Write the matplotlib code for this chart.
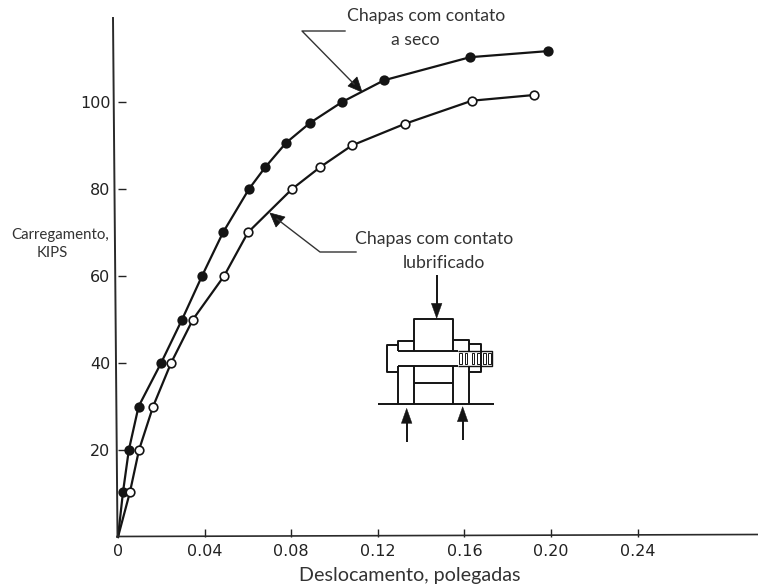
import matplotlib
matplotlib.use("Agg")
import matplotlib.pyplot as plt
from matplotlib.patches import Polygon, Rectangle

# ---- data ----
dry_x = [0, 0.0023, 0.0050, 0.0095, 0.0199, 0.0296, 0.0388, 0.0485, 0.0605, 0.0680, 0.0776, 0.0887, 0.1035, 0.1229, 0.1626, 0.1986]
dry_y = [0, 10.3, 20, 30, 40, 50, 60, 70, 80, 85, 90.6, 95.2, 100, 105, 110.3, 111.7]
lub_x = [0, 0.0055, 0.0097, 0.0162, 0.0245, 0.0346, 0.0490, 0.0600, 0.0804, 0.0933, 0.1080, 0.1326, 0.1635, 0.1920]
lub_y = [0, 10.3, 20, 30, 40, 50, 60, 70, 80, 85, 90, 95, 100.3, 101.6]
x_ticks = [0, 0.04, 0.08, 0.12, 0.16, 0.20, 0.24]
x_tick_labels = ["0", "0.04", "0.08", "0.12", "0.16", "0.20", "0.24"]
y_ticks = [20, 40, 60, 80, 100]
y_tick_labels = ["20", "40", "60", "80", "100"]

W, H = 758, 584
INK = "#141414"
fig = plt.figure(figsize=(W / 100, H / 100), dpi=100)
ax = fig.add_axes([118 / W, (H - 537) / H, (W - 118) / W, (537 - 18) / H])
ax.set_xlim(0, 640 / 2165)
ax.set_ylim(0, 519 / 4.35)
for s in ax.spines.values():
    s.set_visible(False)

for xs, ys, face in ((dry_x, dry_y, INK), (lub_x, lub_y, "white")):
    ax.plot(xs, ys, color=INK, lw=1.6, clip_on=False, zorder=3)
    ax.plot(xs[1:], ys[1:], ls="none", marker="o", ms=6.2, mfc=face, mec=INK, mew=1.2,
            clip_on=False, zorder=4)

ax.set_xticks(x_ticks, x_tick_labels)
ax.set_yticks(y_ticks, y_tick_labels)
ax.tick_params(axis="x", direction="in", length=5.5, width=1, color="#222222", pad=5,
               labelsize=11.5, labelcolor="#222222")
ax.tick_params(axis="y", direction="in", length=5.5, width=1, color="#222222", pad=5.5,
               labelsize=11.5, labelcolor="#222222")

# overlay in picture pixels: hand-drawn axes lines, callouts, schematic
ov = fig.add_axes([0, 0, 1, 1])
ov.set_xlim(0, W)
ov.set_ylim(H, 0)
ov.axis("off")
ov.patch.set_alpha(0)

ov.plot([113, 117.5], [18, 537], color="#2a2a2a", lw=1.4)
ov.plot([117, W], [536.5, 534.5], color="#2a2a2a", lw=1.2)

LATO = "Lato"
TXT = "#333333"
ov.text(426, 16, "Chapas com contato", family=LATO, fontsize=12.7, color=TXT, ha="center", va="center")
ov.text(415, 40, "a seco", family=LATO, fontsize=12.7, color=TXT, ha="center", va="center")
ov.text(434, 239, "Chapas com contato", family=LATO, fontsize=12.7, color=TXT, ha="center", va="center")
ov.text(444, 263, "lubrificado", family=LATO, fontsize=12.7, color=TXT, ha="center", va="center")
ov.text(60, 235, "Carregamento,", family=LATO, fontsize=10.8, color=TXT, ha="center", va="center")
ov.text(52, 253, "KIPS", family=LATO, fontsize=10.8, color=TXT, ha="center", va="center")
ov.text(410, 575, "Deslocamento, polegadas", family=LATO, fontsize=14.2, color=TXT, ha="center", va="center")

# callouts
ov.plot([345, 302, 354], [31, 31, 84], color="#333333", lw=1.0)
ov.add_patch(Polygon([(362, 92), (348, 86), (357, 77)], closed=True, fc=INK, ec=INK, lw=0.5))
ov.plot([356, 320, 277], [252, 252, 219], color="#333333", lw=1.0)
ov.add_patch(Polygon([(270, 213), (285, 217), (276, 227)], closed=True, fc=INK, ec=INK, lw=0.5))


# schematic, in zoomed-crop units (3x, origin at 370,300)
def P(zx, zy):
    return 370 + zx / 3, 300 + zy / 3


def poly(points, lw=1.4):
    pts = [P(*p) for p in points]
    ov.plot([p[0] for p in pts], [p[1] for p in pts], color=INK, lw=lw, solid_capstyle="butt")


poly([(133, 152), (133, 58), (250, 58), (250, 152)])
poly([(133, 122), (85, 122), (85, 152)])
poly([(250, 120), (297, 120), (297, 152)])
poly([(85, 135), (52, 135), (52, 215), (85, 215)])
poly([(85, 152), (265, 152)])
poly([(85, 197), (265, 197)])
poly([(297, 133), (332, 133), (332, 215), (297, 215)])
poly([(265, 152), (365, 152), (365, 197), (265, 197)], lw=1.0)
for zx in (85, 133, 250, 297):
    poly([(zx, 197), (zx, 313)])
poly([(133, 250), (250, 250)])
poly([(25, 313), (372, 313)])
for zx in (268, 285, 305, 322, 340, 355):
    c = P(zx, 158)
    ov.add_patch(Rectangle(c, 7 / 3, 34 / 3, fc="white", ec=INK, lw=0.7, zorder=3))

for x0, y_start, y_tip in ((200, -75, 55), (110, 425, 325), (278, 420, 320)):
    sign = 1 if y_tip > y_start else -1
    poly([(x0, y_start), (x0, y_tip - sign * 30)])
    ov.add_patch(Polygon([P(x0, y_tip), P(x0 - 16, y_tip - sign * 45), P(x0 + 16, y_tip - sign * 45)],
                         closed=True, fc=INK, ec=INK, lw=0.3))

fig.savefig("out.png", dpi=100)
